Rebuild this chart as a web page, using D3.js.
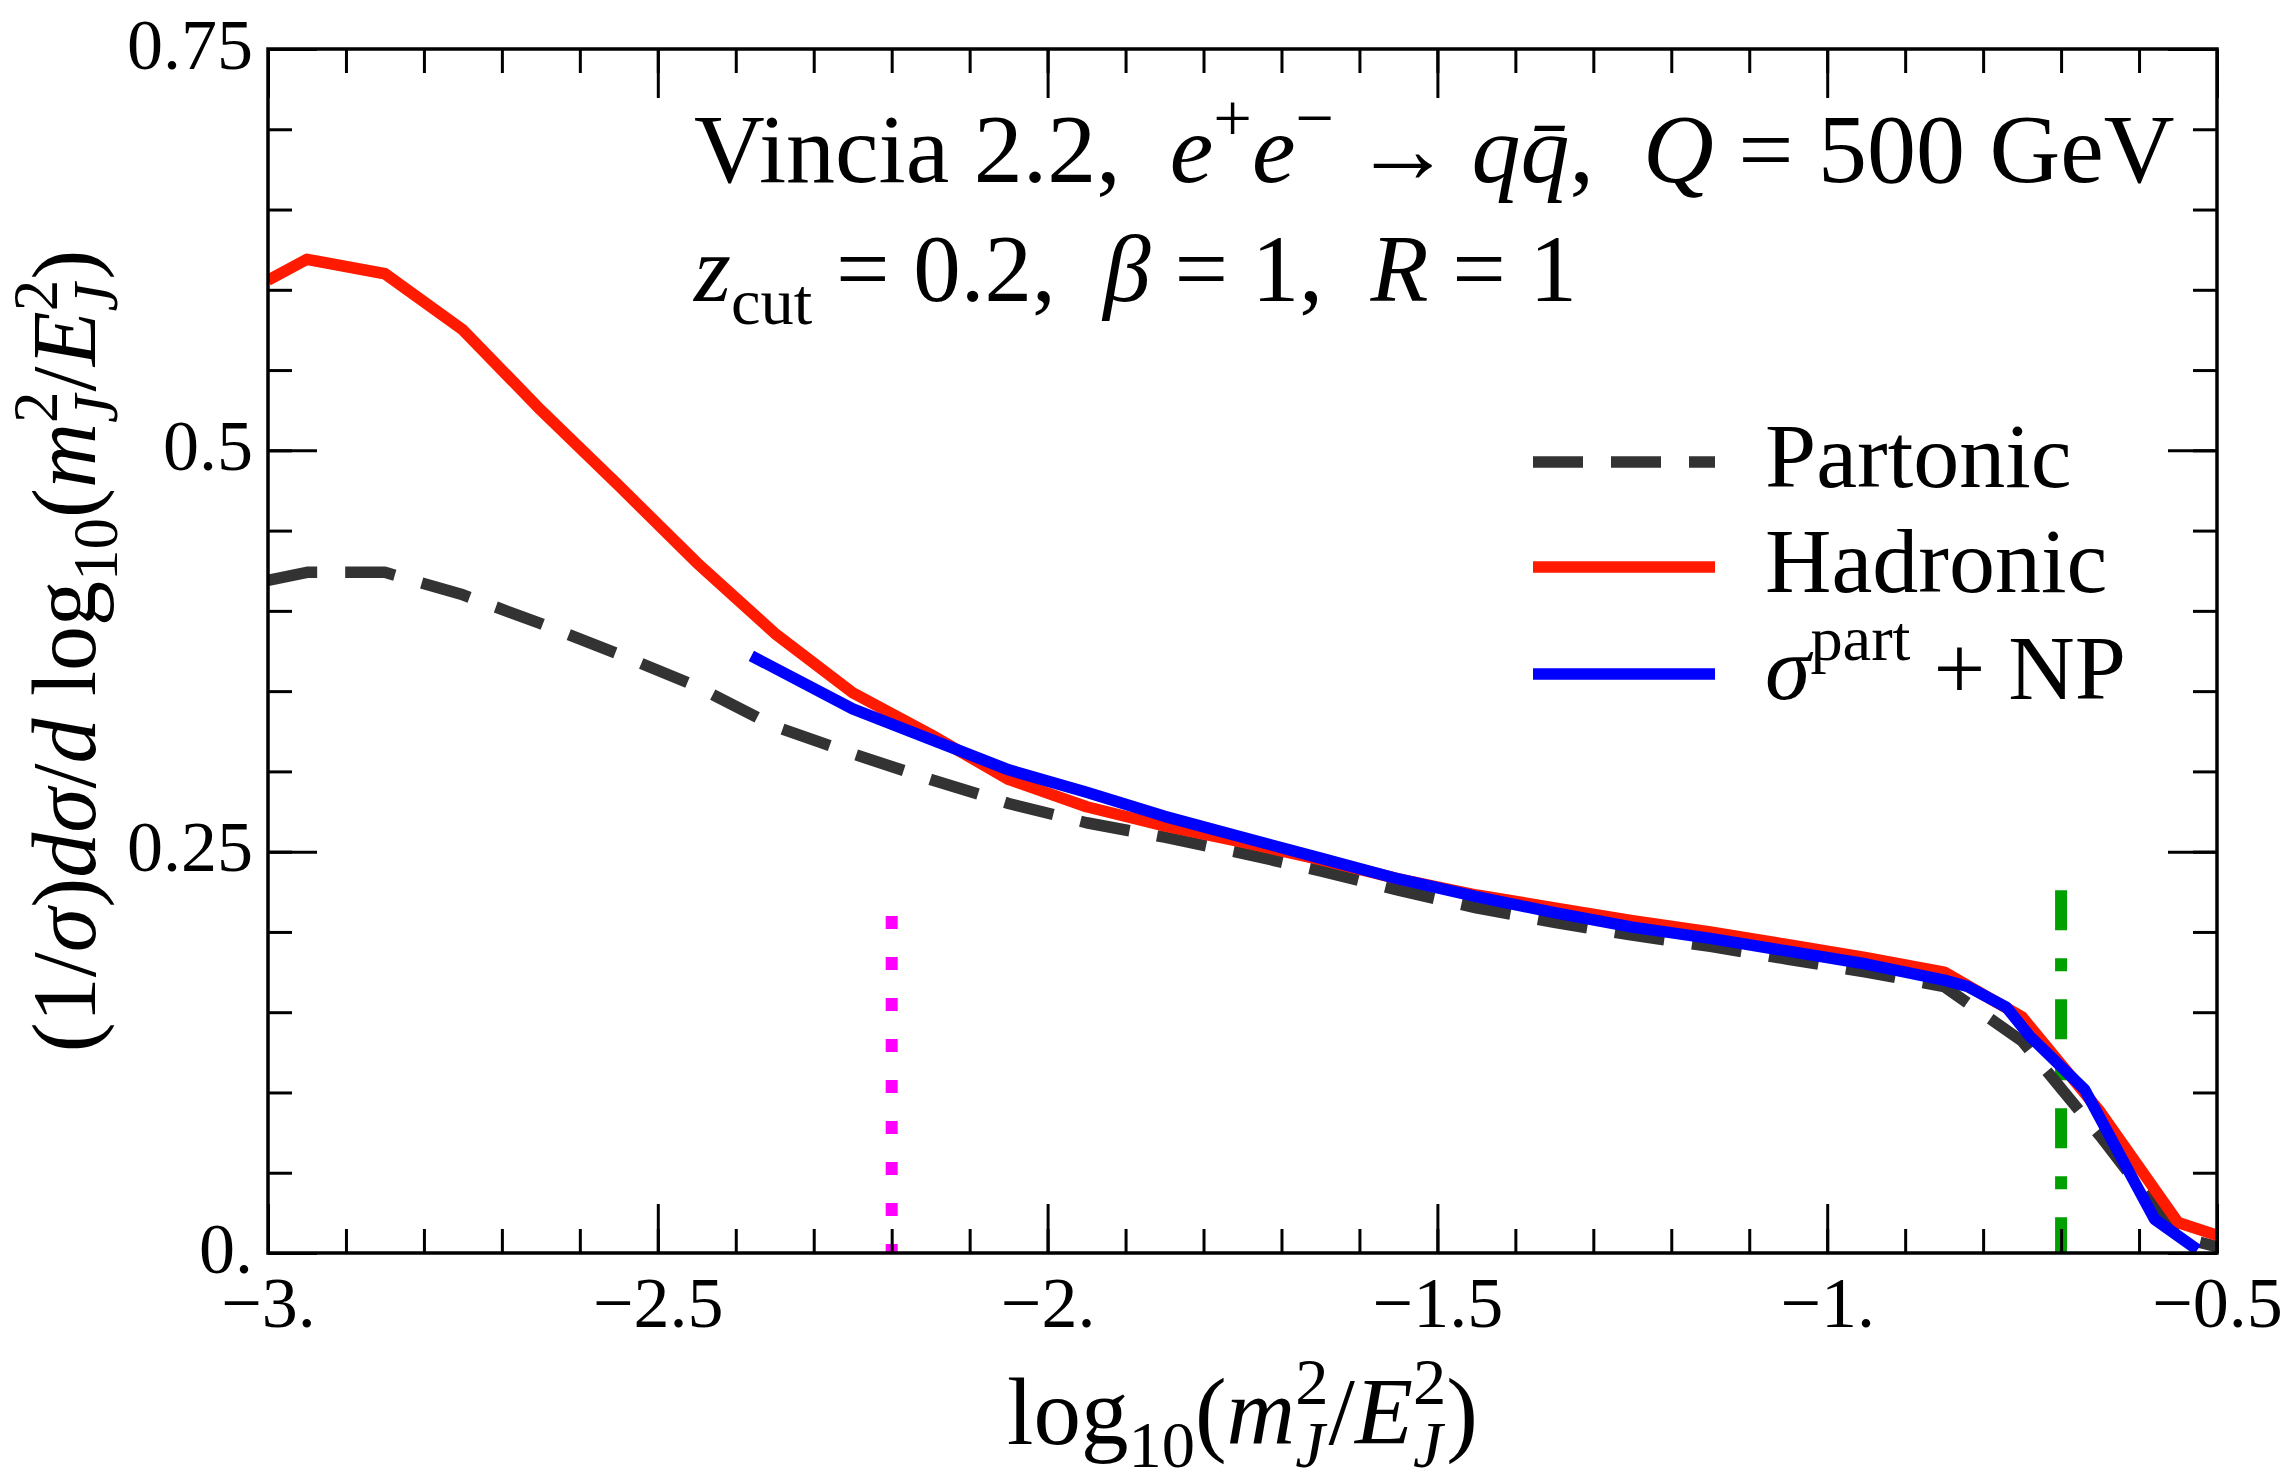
<!DOCTYPE html>
<html lang="en">
<head>
<meta charset="UTF-8">
<title>Vincia soft drop jet mass</title>
<script src="https://cdn.jsdelivr.net/npm/d3@7"></script>
<style>
  body { margin: 0; background: #fff; }
  svg text { font-family: "Liberation Serif", "Times New Roman", serif; fill: #000; }
</style>
</head>
<body>
<svg id="chart" width="2292" height="1482"></svg>
<script>
// bin centres of the histograms (plus the edges at -3 and -0.5)
var xBins = [-3.0, -2.95, -2.85, -2.75, -2.65, -2.55, -2.45, -2.35, -2.25, -2.15, -2.05, -1.95, -1.85,
  -1.75, -1.65, -1.55, -1.45, -1.35, -1.25, -1.15, -1.05, -0.95, -0.85, -0.75, -0.65, -0.55, -0.5];
var partonic = [0.419, 0.424, 0.424, 0.410, 0.392, 0.373, 0.353, 0.328, 0.311, 0.295, 0.280, 0.268, 0.259,
  0.249, 0.238, 0.226, 0.215, 0.206, 0.198, 0.191, 0.183, 0.175, 0.166, 0.132, 0.073, 0.010, 0.004];
var hadronic = [0.606, 0.619, 0.610, 0.575, 0.525, 0.478, 0.430, 0.386, 0.349, 0.323, 0.295, 0.278, 0.266,
  0.256, 0.245, 0.233, 0.223, 0.215, 0.207, 0.200, 0.192, 0.184, 0.175, 0.147, 0.088, 0.019, 0.011];
// sigma^part + NP only starts near -2.38
var npX = [-2.38, -2.25, -2.15, -2.05, -1.95, -1.85, -1.75, -1.65, -1.55, -1.45, -1.35, -1.25, -1.15,
  -1.05, -0.95, -0.85, -0.82, -0.77, -0.74, -0.67, -0.58, -0.525];
var npY = [0.372, 0.339, 0.320, 0.301, 0.287, 0.272, 0.259, 0.246, 0.233, 0.222, 0.212, 0.203, 0.196,
  0.188, 0.180, 0.170, 0.166, 0.153, 0.135, 0.102, 0.021, 0.002];

// vertical marker lines [x, top]
var magentaLine = [-2.2, 0.21];
var greenLine = [-0.7, 0.226];

var xMajor = [-3, -2.5, -2, -1.5, -1, -0.5];
var xTickLabels = ["\u22123.", "\u22122.5", "\u22122.", "\u22121.5", "\u22121.", "\u22120.5"];
var yMajor = [0, 0.25, 0.5, 0.75];
var yTickLabels = ["0.", "0.25", "0.5", "0.75"];

var svg = d3.select("#chart");
var L = 268, R = 2217, T = 49, B = 1253;
var x = d3.scaleLinear().domain([-3, -0.5]).range([L, R]);
var y = d3.scaleLinear().domain([0, 0.75]).range([B, T]);

var xMinor = d3.range(26).map(function (i) { return -3 + i * 0.1; });
var yMinor = d3.range(16).map(function (i) { return i * 0.05; });

svg.append("defs").append("clipPath").attr("id", "plot")
  .append("rect").attr("x", L).attr("y", T).attr("width", R - L).attr("height", B - T);

// ---- data lines
var line = d3.line()
  .x(function (d) { return x(d[0]); })
  .y(function (d) { return y(d[1]); });

var g = svg.append("g").attr("clip-path", "url(#plot)");

function vline(v, color, dash) {
  g.append("path")
    .datum([[v[0], v[1]], [v[0], 0]])
    .attr("d", line)
    .attr("fill", "none")
    .attr("stroke", color)
    .attr("stroke-width", 12)
    .attr("stroke-dasharray", dash);
}
vline(magentaLine, "#ff00ff", "13 28");
vline(greenLine, "#00a000", "40 28 13 28");

g.append("path")
  .datum(d3.zip(xBins, partonic))
  .attr("d", line)
  .attr("fill", "none")
  .attr("stroke", "#333333")
  .attr("stroke-width", 11.5)
  .attr("stroke-dasharray", "50 28")
  .attr("stroke-linejoin", "round");

g.append("path")
  .datum(d3.zip(xBins, hadronic))
  .attr("d", line)
  .attr("fill", "none")
  .attr("stroke", "#ff1a00")
  .attr("stroke-width", 11.5)
  .attr("stroke-linejoin", "round");

g.append("path")
  .datum(d3.zip(npX, npY))
  .attr("d", line)
  .attr("fill", "none")
  .attr("stroke", "#0000ff")
  .attr("stroke-width", 11.5)
  .attr("stroke-linejoin", "round");

// ---- frame and ticks (all inward, on four sides)
function ticks(axis, tr, size, vals) {
  var a = svg.append("g").attr("transform", tr)
    .call(axis.tickValues(vals).tickSize(-size).tickFormat(""));
  a.select(".domain").remove();
  a.selectAll("line").attr("stroke", "#000").attr("stroke-width", 3);
  return a;
}
ticks(d3.axisBottom(x), "translate(0," + B + ")", 24, xMinor);
ticks(d3.axisTop(x), "translate(0," + T + ")", 24, xMinor);
ticks(d3.axisLeft(y), "translate(" + L + ",0)", 24, yMinor);
ticks(d3.axisRight(y), "translate(" + R + ",0)", 24, yMinor);
ticks(d3.axisTop(x), "translate(0," + T + ")", 49, xMajor);
ticks(d3.axisRight(y), "translate(" + R + ",0)", 49, yMajor);

var bx = ticks(d3.axisBottom(x), "translate(0," + B + ")", 49, xMajor);
bx.selectAll("text")
  .text(function (d, i) { return xTickLabels[i]; })
  .attr("y", 74).attr("dy", 0)
  .style("font-size", "72px");

var ly = ticks(d3.axisLeft(y), "translate(" + L + ",0)", 49, yMajor);
ly.selectAll("text")
  .text(function (d, i) { return yTickLabels[i]; })
  .attr("x", -15).attr("dy", 19)
  .style("font-size", "72px");

svg.append("rect")
  .attr("x", L).attr("y", T).attr("width", R - L).attr("height", B - T)
  .attr("fill", "none").attr("stroke", "#000").attr("stroke-width", 3.5);

// ---- rich text helper: parts with italic / shift / scale
function rich(sel, parts, F) {
  var cur = 0;
  parts.forEach(function (p) {
    var sh = (p.s || 0) * F;
    var ts = sel.append("tspan").text(p.t)
      .attr("dy", sh - cur)
      .style("font-size", (p.k || 1) * F + "px");
    if (p.i) ts.style("font-style", "italic");
    if (p.dx) ts.attr("dx", p.dx * F);
    cur = sh;
  });
}
var SUP = -0.42, SUB = 0.24, K = 0.7;

// title lines
rich(svg.append("text").attr("x", 694).attr("y", 182), [
  { t: "Vincia 2.2,\u2002" },
  { t: "e", i: 1 }, { t: "+", s: SUP, k: K },
  { t: "e", i: 1 }, { t: "\u2212", s: SUP, k: K },
  { t: "\u2009\u2192\u2009" },
  { t: "q", i: 1 }, { t: "q\u0304", i: 1 },
  { t: ",\u2002" },
  { t: "Q", i: 1 },
  { t: " = 500 GeV" }
], 98);

rich(svg.append("text").attr("x", 694).attr("y", 301), [
  { t: "z", i: 1 }, { t: "cut", s: SUB, k: K },
  { t: " = 0.2,\u2002" },
  { t: "\u03b2", i: 1 },
  { t: " = 1,\u2002" },
  { t: "R", i: 1 },
  { t: " = 1" }
], 95);

// m_J^2 / E_J^2 with stacked sub and superscripts
function massRatio() {
  return [
    { t: "(" },
    { t: "m", i: 1 }, { t: "J", i: 1, s: SUB, k: K }, { t: "2", s: SUP, k: K, dx: -0.31 },
    { t: "/" },
    { t: "E", i: 1 }, { t: "J", i: 1, s: SUB, k: K }, { t: "2", s: SUP, k: K, dx: -0.31 },
    { t: ")" }
  ];
}

// x axis title
rich(svg.append("text").attr("x", (L + R) / 2).attr("y", 1444).attr("text-anchor", "middle"),
  [{ t: "log" }, { t: "10", s: SUB, k: K }].concat(massRatio()), 95);

// y axis title
rich(svg.append("text")
  .attr("transform", "translate(95," + (T + B) / 2 + ") rotate(-90)")
  .attr("text-anchor", "middle"),
  [{ t: "(1/" }, { t: "\u03c3", i: 1 }, { t: ")" }, { t: "d\u03c3", i: 1 }, { t: "/" },
   { t: "d", i: 1 }, { t: " log" }, { t: "10", s: SUB, k: K }].concat(massRatio()), 90);

// ---- legend
var legend = [
  { label: [{ t: "Partonic" }], color: "#333333", dash: "50 28", y: 462 },
  { label: [{ t: "Hadronic" }], color: "#ff1a00", dash: null, y: 567 },
  { label: [{ t: "\u03c3", i: 1 }, { t: "part", s: SUP, k: K }, { t: " + NP" }], color: "#0000ff", dash: null, y: 674 }
];
legend.forEach(function (e) {
  svg.append("line")
    .attr("x1", 1533).attr("x2", 1715).attr("y1", e.y).attr("y2", e.y)
    .attr("stroke", e.color).attr("stroke-width", 11.5)
    .attr("stroke-dasharray", e.dash);
  rich(svg.append("text").attr("x", 1765).attr("y", e.y + 25), e.label, 92);
});
</script>
</body>
</html>
